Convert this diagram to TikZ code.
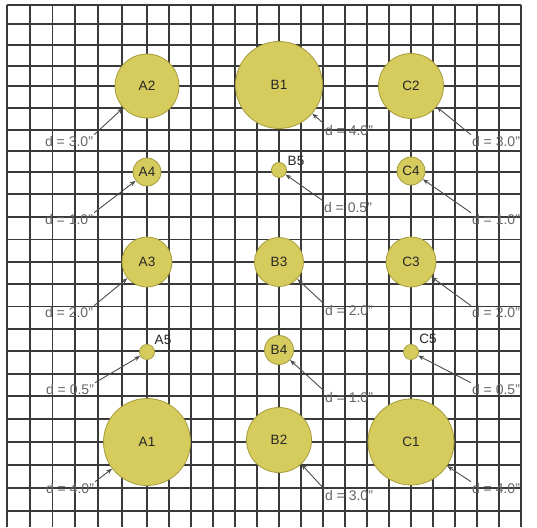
\documentclass[tikz,border=0pt]{standalone}
\usepackage{fontspec}
\setmainfont{Liberation Sans}
\usetikzlibrary{arrows.meta}
\definecolor{disc}{HTML}{D6CC5E}
\definecolor{discline}{HTML}{A69C3C}
\definecolor{gridc}{HTML}{3A3A3A}
\begin{document}
\begin{tikzpicture}[x=1pt,y=-1pt,
  hole/.style={circle, draw=discline, line width=0.8pt, fill=disc, inner sep=0pt,
    font=\fontsize{13.5}{14}\selectfont, text=black!85},
  tag/.style={font=\fontsize{13.5}{14}\selectfont, text=black!85, inner sep=1pt},
  dim/.style={font=\fontsize{14}{14}\selectfont, text=black!60, inner sep=1pt},
  lead/.style={draw=black!70, line width=0.9pt, -{Stealth[length=6pt,width=4.5pt]}},
  gridline/.style={draw=gridc, line width=1.1pt}]
\fill[white] (0,0) rectangle (537,527);
\useasboundingbox (0,0) rectangle (537,527);
% grid
\foreach \x in {7,30,52.5,75,98,122,147,169,191,213,235,257,279,301,323,345,367,389,411,433,455,477,499,521}
  \draw[gridline] (\x,5) -- (\x,527);
\foreach \y in {5,24,45,66,86,108,130,151,172,194,217,239.5,262,284,306.5,329,351,374,396,419,442,465,488,511}
  \draw[gridline] (7,\y) -- (521,\y);
% discs
\node[hole, minimum size=64pt] (A2) at (147,86) {A2};
\node[hole, minimum size=28pt] (A4) at (147,172) {A4};
\node[hole, minimum size=50pt] (A3) at (147,262) {A3};
\node[hole, minimum size=15pt] (A5) at (147,352) {};
\node[hole, minimum size=87pt] (A1) at (147,442) {A1};
\node[hole, minimum size=87pt] (B1) at (279,85) {B1};
\node[hole, minimum size=15pt] (B5) at (279,170) {};
\node[hole, minimum size=49pt] (B3) at (279,262) {B3};
\node[hole, minimum size=29pt] (B4) at (279,350) {B4};
\node[hole, minimum size=65pt] (B2) at (279,440) {B2};
\node[hole, minimum size=65pt] (C2) at (411,86) {C2};
\node[hole, minimum size=28pt] (C4) at (411,171) {C4};
\node[hole, minimum size=50pt] (C3) at (411,262) {C3};
\node[hole, minimum size=15pt] (C5) at (411,352) {};
\node[hole, minimum size=86pt] (C1) at (411,442) {C1};
% labels of small discs
\node[tag] (tA5) at (163,340) {A5};
\node[tag] (tB5) at (296,161) {B5};
\node[tag] (tC5) at (428,339) {C5};
% dimension labels
\node[dim] (lA2) at (69,141) {d = 3.0"};
\node[dim] (lA4) at (69,219) {d = 1.0"};
\node[dim] (lA3) at (69,312) {d = 2.0"};
\node[dim] (lA5) at (70,389) {d = 0.5"};
\node[dim] (lA1) at (70,488) {d = 4.0"};
\node[dim] (lB1) at (349,130) {d = 4.0"};
\node[dim] (lB5) at (348,207) {d = 0.5"};
\node[dim] (lB3) at (349,310) {d = 2.0"};
\node[dim] (lB4) at (349,397) {d = 1.0"};
\node[dim] (lB2) at (349,495) {d = 3.0"};
\node[dim] (lC2) at (496,141) {d = 3.0"};
\node[dim] (lC4) at (496,219) {d = 1.0"};
\node[dim] (lC3) at (496,312) {d = 2.0"};
\node[dim] (lC5) at (496,389) {d = 0.5"};
\node[dim] (lC1) at (496,488) {d = 4.0"};
% leaders
\foreach \n in {A2,A4,A3,A5,A1}
  \draw[lead] (l\n.north east) -- (\n);
\foreach \n in {B1,B5,B3,B4,B2,C2,C4,C3,C5,C1}
  \draw[lead] (l\n.north west) -- (\n);
\end{tikzpicture}
\end{document}
